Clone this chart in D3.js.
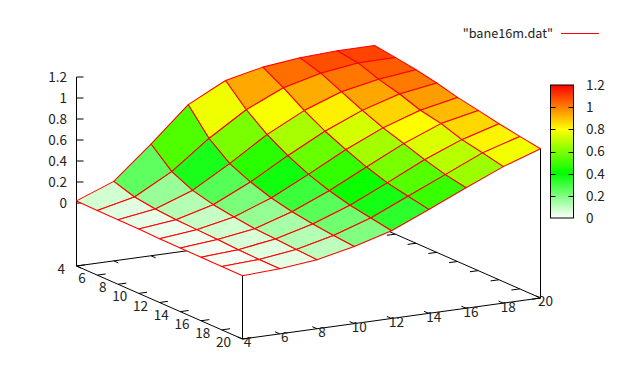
<!DOCTYPE html>
<html><head><meta charset="utf-8">
<script src="https://cdn.jsdelivr.net/npm/d3@7"></script>
<style>html,body{margin:0;padding:0;background:#fff}svg{display:block}text{font-family:"Noto Sans CJK JP","Noto Sans",sans-serif;font-size:13.5px;fill:#222}</style>
</head><body><div id="c"></div>
<script>
const xValues = [4,6,8,10,12,14,16,18,20];
const yValues = [4,6,8,10,12,14,16,18,20];
const xTicks = [4,6,8,10,12,14,16,18,20];
const yTicks = [4,6,8,10,12,14,16,18,20];
const zTicks = [0,0.2,0.4,0.6,0.8,1,1.2];
const cbTicks = [0,0.2,0.4,0.6,0.8,1,1.2];
const paletteStops = [0,0.4,0.8,1.2];
const paletteColors = ["#ffffff","#00ff00","#ffff00","#ff0000"];
const legendLabel = '"bane16m.dat"';
const z_x4  = [.020,.016,.015,.013,.008,.006,.005,.004,.003];
const z_x6  = [.157,.095,.068,.053,.045,.038,.028,.022,.020];
const z_x8  = [.464,.288,.196,.147,.117,.092,.081,.067,.058];
const z_x10 = [.790,.555,.402,.314,.249,.205,.175,.153,.135];
const z_x12 = [.972,.780,.630,.516,.425,.356,.305,.270,.236];
const z_x14 = [1.050,.940,.810,.700,.611,.533,.469,.428,.390];
const z_x16 = [1.090,1.030,.940,.850,.770,.707,.641,.586,.548];
const z_x18 = [1.109,1.079,1.010,.957,.889,.849,.783,.744,.700];
const z_x20 = [1.110,1.083,1.053,1.013,.963,.926,.886,.852,.822];
const zGrid = [z_x4,z_x6,z_x8,z_x10,z_x12,z_x14,z_x16,z_x18,z_x20];

const W=620,H=386;
const svg=d3.select("#c").append("svg").attr("width",W).attr("height",H);
const front={x:242.5,y:339};
const xToPx=d3.scaleLinear().domain([4,20]).range([0,298]);
const xToPy=d3.scaleLinear().domain([4,20]).range([0,-41]);
const yToPx=d3.scaleLinear().domain([20,4]).range([0,-166]);
const yToPy=d3.scaleLinear().domain([20,4]).range([0,-73]);
const zBase=-0.6;
const zToPy=d3.scaleLinear().domain([zBase,1.2]).range([0,-189]);
const color=d3.scaleLinear().domain(paletteStops).range(paletteColors);
const proj=(x,y,z)=>[front.x+xToPx(x)+yToPx(y), front.y+xToPy(x)+yToPy(y)+zToPy(z)];
const path=d3.line();
const axisG=svg.append("g");
const seg=(a,b,w=1)=>axisG.append("path").attr("d",path([a,b])).attr("fill","none").attr("stroke","#000").attr("stroke-width",w);

const xMin=4,xMax=20,yMin=4,yMax=20;
seg(proj(xMin,yMin,zBase),proj(xMin,yMax,zBase));
seg(proj(xMin,yMax,zBase),proj(xMax,yMax,zBase));
seg(proj(xMax,yMax,zBase),proj(xMax,yMin,zBase));
seg(proj(xMax,yMin,zBase),proj(xMin,yMin,zBase));
seg(proj(xMin,yMin,zBase),proj(xMin,yMin,1.2));
seg(proj(xMin,yMax,zBase),proj(xMin,yMax,z_x4[8]));
seg(proj(xMax,yMax,zBase),proj(xMax,yMax,z_x20[8]));

const tickX=0.45, tickY=0.45;
yTicks.forEach(v=>{
  seg(proj(xMin,v,zBase),proj(xMin+tickX,v,zBase));
  seg(proj(xMax,v,zBase),proj(xMax-tickX,v,zBase));
  const p=proj(xMin,v,zBase);
  svg.append("text").attr("x",p[0]-11.5).attr("y",p[1]+3.2).attr("dy","0.36em").attr("text-anchor","end").text(v);
});
xTicks.forEach(v=>{
  seg(proj(v,yMax,zBase),proj(v,yMax-tickY,zBase));
  seg(proj(v,yMin,zBase),proj(v,yMin+tickY,zBase));
  const p=proj(v,yMax,zBase);
  svg.append("text").attr("x",p[0]+5).attr("y",p[1]+3.6).attr("dy","0.36em").attr("text-anchor","middle").text(v);
});
zTicks.forEach(v=>{
  const p=proj(xMin,yMin,v);
  seg(p,[p[0]+7,p[1]]);
  svg.append("text").attr("x",p[0]-9.5).attr("y",p[1]).attr("dy","0.36em").attr("text-anchor","end").text(v);
});

const cells=[];
for(let i=xValues.length-2;i>=0;i--){
  for(let j=0;j<yValues.length-1;j++){
    cells.push({i,j,avg:d3.mean([zGrid[i][j],zGrid[i+1][j],zGrid[i+1][j+1],zGrid[i][j+1]])});
  }
}
const closed=d3.line().curve(d3.curveLinearClosed);
svg.append("g").selectAll("path").data(cells).join("path")
  .attr("d",c=>closed([
    proj(xValues[c.i],yValues[c.j],zGrid[c.i][c.j]),
    proj(xValues[c.i+1],yValues[c.j],zGrid[c.i+1][c.j]),
    proj(xValues[c.i+1],yValues[c.j+1],zGrid[c.i+1][c.j+1]),
    proj(xValues[c.i],yValues[c.j+1],zGrid[c.i][c.j+1])
  ]))
  .attr("fill",c=>color(c.avg)).attr("stroke","#ff0000").attr("stroke-width",1.05).attr("stroke-linejoin","round");

svg.append("text").attr("x",553).attr("y",33).attr("dy","0.36em").attr("text-anchor","end").style("font-size","12.7px").text(legendLabel);
svg.append("line").attr("x1",561).attr("x2",599).attr("y1",33.5).attr("y2",33.5).attr("stroke","#ff0000");

const cb={x0:550.5,x1:573.5};
const cbY=d3.scaleLinear().domain([0,1.2]).range([218,85]);
const grad=svg.append("defs").append("linearGradient").attr("id","cbg").attr("x1",0).attr("x2",0).attr("y1",1).attr("y2",0);
grad.selectAll("stop").data(paletteStops).join("stop").attr("offset",d=>d/1.2).attr("stop-color",d=>color(d));
svg.append("rect").attr("x",cb.x0).attr("y",cbY(1.2)).attr("width",cb.x1-cb.x0).attr("height",cbY(0)-cbY(1.2)).attr("fill","url(#cbg)").attr("stroke","#000");
cbTicks.forEach(v=>{
  const y=Math.round(cbY(v))+.5;
  if(v>0&&v<1.2){
    svg.append("line").attr("x1",cb.x0).attr("x2",cb.x0+5).attr("y1",y).attr("y2",y).attr("stroke","#000");
    svg.append("line").attr("x1",cb.x1-5).attr("x2",cb.x1).attr("y1",y).attr("y2",y).attr("stroke","#000");
  }
  svg.append("text").attr("x",586).attr("y",cbY(v)).attr("dy","0.36em").text(v);
});
</script></body></html>
